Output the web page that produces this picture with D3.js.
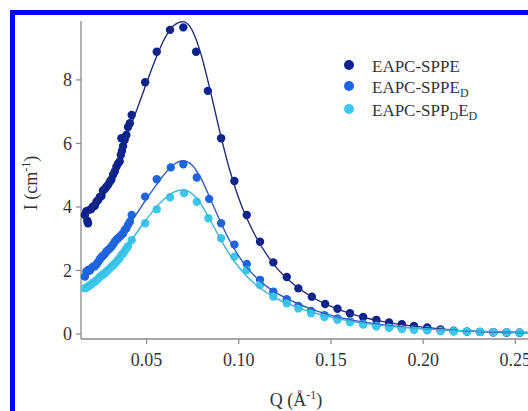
<!DOCTYPE html>
<html>
<head>
<meta charset="utf-8">
<script src="https://cdn.jsdelivr.net/npm/d3@7"></script>
<style>
    body { margin: 0; background: #fff; }
    svg { display: block; font-family: "Liberation Serif", "DejaVu Serif", serif; }
</style>
</head>
<body>
<svg width="528" height="411"></svg>
<script>
var names = ["EAPC-SPPE", "EAPC-SPPE_D", "EAPC-SPP_DE_D"];

var xTicks = [0.05, 0.10, 0.15, 0.20, 0.25];
var yTicks = [0, 2, 4, 6, 8];

// measured points [Q, I]
var dataE = [
    [0.0168, 3.73], [0.0176, 3.85], [0.0181, 3.55], [0.0185, 3.47], [0.0195, 3.90], [0.0203, 3.92],
    [0.0212, 4.00], [0.0222, 4.02], [0.0231, 4.15], [0.0240, 4.20], [0.0249, 4.30], [0.0258, 4.33],
    [0.0266, 4.50], [0.0276, 4.55], [0.0285, 4.62], [0.0294, 4.68], [0.0303, 4.78], [0.0312, 4.85],
    [0.0321, 5.00], [0.0330, 5.10], [0.0339, 5.25], [0.0348, 5.35], [0.0357, 5.42], [0.0363, 5.62],
    [0.0369, 5.75], [0.0375, 5.90], [0.0366, 6.15], [0.0384, 6.10], [0.0393, 6.25], [0.0402, 6.50],
    [0.0412, 6.62], [0.0422, 6.88], [0.0495, 7.91], [0.0558, 8.87], [0.0630, 9.56], [0.0702, 9.64],
    [0.0771, 8.87], [0.0835, 7.64], [0.0907, 6.15], [0.0979, 4.80], [0.1046, 3.73], [0.1118, 2.89],
    [0.1190, 2.24], [0.1263, 1.78], [0.1326, 1.42], [0.1399, 1.16], [0.1471, 0.93], [0.1538, 0.78],
    [0.1606, 0.64], [0.1677, 0.52], [0.1749, 0.43], [0.1818, 0.35], [0.1887, 0.29], [0.1953, 0.24],
    [0.2025, 0.19], [0.2097, 0.13], [0.2168, 0.09], [0.2240, 0.06], [0.2311, 0.05], [0.2383, 0.04],
    [0.2455, 0.03], [0.2526, 0.02], [0.2597, 0.02]
];

var dataED = [
    [0.0168, 1.79], [0.0176, 1.95], [0.0185, 2.00], [0.0195, 1.98], [0.0203, 2.05], [0.0212, 2.10],
    [0.0222, 2.12], [0.0231, 2.18], [0.0240, 2.25], [0.0249, 2.34], [0.0258, 2.40], [0.0266, 2.45],
    [0.0276, 2.50], [0.0285, 2.58], [0.0294, 2.63], [0.0303, 2.68], [0.0312, 2.73], [0.0321, 2.80],
    [0.0330, 2.89], [0.0339, 2.95], [0.0348, 3.00], [0.0357, 3.05], [0.0366, 3.10], [0.0375, 3.15],
    [0.0384, 3.26], [0.0393, 3.31], [0.0402, 3.42], [0.0412, 3.52], [0.0422, 3.73], [0.0495, 4.31],
    [0.0558, 4.86], [0.0634, 5.23], [0.0702, 5.33], [0.0775, 4.91], [0.0842, 4.24], [0.0907, 3.47],
    [0.0979, 2.80], [0.1046, 2.19], [0.1118, 1.69], [0.1190, 1.32], [0.1263, 1.08], [0.1326, 0.87],
    [0.1395, 0.71], [0.1467, 0.58], [0.1538, 0.47], [0.1606, 0.38], [0.1677, 0.31], [0.1749, 0.25],
    [0.1818, 0.20], [0.1887, 0.16], [0.1953, 0.13], [0.2025, 0.11], [0.2097, 0.09], [0.2168, 0.07],
    [0.2240, 0.06], [0.2311, 0.05], [0.2383, 0.04], [0.2455, 0.03], [0.2526, 0.03], [0.2597, 0.03]
];

var dataPDED = [
    [0.0168, 1.42], [0.0176, 1.45], [0.0185, 1.47], [0.0195, 1.52], [0.0203, 1.55], [0.0212, 1.60],
    [0.0222, 1.63], [0.0231, 1.68], [0.0240, 1.72], [0.0249, 1.79], [0.0258, 1.82], [0.0266, 1.86],
    [0.0276, 1.90], [0.0285, 1.95], [0.0294, 2.00], [0.0303, 2.05], [0.0312, 2.10], [0.0321, 2.15],
    [0.0330, 2.20], [0.0339, 2.26], [0.0348, 2.32], [0.0357, 2.38], [0.0366, 2.47], [0.0375, 2.52],
    [0.0384, 2.60], [0.0393, 2.68], [0.0402, 2.75], [0.0422, 2.94], [0.0495, 3.47], [0.0558, 3.91],
    [0.0630, 4.29], [0.0706, 4.42], [0.0775, 4.15], [0.0838, 3.63], [0.0907, 3.00], [0.0979, 2.42],
    [0.1046, 2.00], [0.1118, 1.53], [0.1190, 1.16], [0.1263, 0.95], [0.1326, 0.79], [0.1395, 0.64],
    [0.1467, 0.52], [0.1538, 0.43], [0.1606, 0.35], [0.1677, 0.28], [0.1749, 0.22], [0.1818, 0.18],
    [0.1887, 0.14], [0.1953, 0.12], [0.2025, 0.10], [0.2097, 0.08], [0.2168, 0.07], [0.2240, 0.06],
    [0.2311, 0.05], [0.2383, 0.04], [0.2455, 0.04], [0.2526, 0.03], [0.2597, 0.03]
];

// fitted curves [Q, I]
var fitE = [
    [0.0165, 3.62], [0.020, 3.90], [0.025, 4.38], [0.030, 4.92], [0.035, 5.55], [0.040, 6.28],
    [0.045, 7.05], [0.050, 7.85], [0.055, 8.62], [0.060, 9.28], [0.065, 9.70], [0.070, 9.82],
    [0.075, 9.55], [0.080, 8.75], [0.085, 7.60], [0.090, 6.35], [0.095, 5.22], [0.100, 4.30],
    [0.105, 3.58], [0.110, 3.00], [0.115, 2.52], [0.120, 2.12], [0.130, 1.55], [0.140, 1.15],
    [0.150, 0.86], [0.160, 0.64], [0.170, 0.48], [0.180, 0.36], [0.190, 0.27], [0.200, 0.20],
    [0.210, 0.14], [0.220, 0.09], [0.230, 0.06], [0.240, 0.04], [0.250, 0.03], [0.265, 0.02]
];

var fitED = [
    [0.0165, 1.72], [0.020, 1.92], [0.025, 2.22], [0.030, 2.55], [0.035, 2.94], [0.040, 3.35],
    [0.045, 3.78], [0.050, 4.22], [0.055, 4.63], [0.060, 5.02], [0.065, 5.32], [0.070, 5.44],
    [0.075, 5.30], [0.080, 4.86], [0.085, 4.22], [0.090, 3.56], [0.095, 2.96], [0.100, 2.46],
    [0.105, 2.06], [0.110, 1.75], [0.115, 1.50], [0.120, 1.30], [0.130, 1.00], [0.140, 0.76],
    [0.150, 0.58], [0.160, 0.44], [0.170, 0.34], [0.180, 0.26], [0.190, 0.20], [0.200, 0.15],
    [0.210, 0.12], [0.220, 0.09], [0.230, 0.07], [0.240, 0.05], [0.250, 0.04], [0.265, 0.03]
];

var fitPDED = [
    [0.0165, 1.45], [0.020, 1.60], [0.025, 1.84], [0.030, 2.10], [0.035, 2.40], [0.040, 2.78],
    [0.045, 3.18], [0.050, 3.58], [0.055, 3.94], [0.060, 4.24], [0.065, 4.45], [0.070, 4.52],
    [0.075, 4.40], [0.080, 4.05], [0.085, 3.55], [0.090, 3.01], [0.095, 2.52], [0.100, 2.11],
    [0.105, 1.78], [0.110, 1.51], [0.115, 1.30], [0.120, 1.12], [0.130, 0.87], [0.140, 0.67],
    [0.150, 0.52], [0.160, 0.40], [0.170, 0.31], [0.180, 0.24], [0.190, 0.19], [0.200, 0.15],
    [0.210, 0.12], [0.220, 0.09], [0.230, 0.07], [0.240, 0.05], [0.250, 0.04], [0.265, 0.03]
];

var dotColors = ["#0b2190", "#1c66e2", "#3cc8ee"];
var lineColors = ["#222c78", "#2f5cc4", "#3cb4d8"];

var series = [
    { name: names[0], points: dataE, fit: fitE },
    { name: names[1], points: dataED, fit: fitED },
    { name: names[2], points: dataPDED, fit: fitPDED }
];

var svg = d3.select("svg"),
    width = +svg.attr("width"),
    height = +svg.attr("height");

// blue frame
svg.append("rect")
    .attr("x", 12.5).attr("y", 12.5)
    .attr("width", 600).attr("height", 500)
    .attr("fill", "none")
    .attr("stroke", "#0000ff")
    .attr("stroke-width", 5);

var x = d3.scaleLinear().domain([0.0147, 0.265]).range([81, 542.5]);
var y = d3.scaleLinear().domain([0, 9.84]).range([333.5, 21]);
var xAxisY = 339;

var xAxis = svg.append("g")
    .attr("transform", "translate(0," + xAxisY + ")")
    .call(d3.axisBottom(x).tickValues(xTicks).tickSize(5).tickSizeOuter(0)
        .tickFormat(d3.format(".2f")));

var yAxis = svg.append("g")
    .attr("transform", "translate(81,0)")
    .call(d3.axisLeft(y).tickValues(yTicks).tickSize(5).tickSizeOuter(0)
        .tickFormat(d3.format("d")));

xAxis.select(".domain").remove();
yAxis.select(".domain").remove();

svg.append("line")
    .attr("x1", 81).attr("x2", 81)
    .attr("y1", 21).attr("y2", xAxisY)
    .attr("stroke", "#8a8a8a").attr("stroke-width", 1.3);
svg.append("line")
    .attr("x1", 81).attr("x2", width + 20)
    .attr("y1", xAxisY).attr("y2", xAxisY)
    .attr("stroke", "#8a8a8a").attr("stroke-width", 1.3);

svg.selectAll(".tick line").attr("stroke", "#8a8a8a").attr("stroke-width", 1.2);
svg.selectAll(".tick text")
    .attr("fill", "#333")
    .style("font-family", "'Liberation Serif', serif")
    .style("font-size", "18px");
xAxis.selectAll(".tick text").attr("dy", "1.05em");
yAxis.selectAll(".tick text").attr("x", -9).attr("dy", "0.34em");

var line = d3.line()
    .curve(d3.curveMonotoneX)
    .x(function (d) { return x(d[0]); })
    .y(function (d) { return y(d[1]); });

var plot = svg.append("g");

series.forEach(function (s, i) {
    plot.append("g").selectAll("circle")
        .data(s.points)
        .enter().append("circle")
        .attr("cx", function (d) { return x(d[0]); })
        .attr("cy", function (d) { return y(d[1]); })
        .attr("r", 4.2)
        .attr("fill", dotColors[i]);
});

series.forEach(function (s, i) {
    plot.append("path")
        .datum(s.fit)
        .attr("d", line)
        .attr("fill", "none")
        .attr("stroke", lineColors[i])
        .attr("stroke-width", 1.4);
});

// legend
var legend = svg.append("g").attr("transform", "translate(349,0)");
var legendY = [65, 86, 109];

series.forEach(function (s, i) {
    legend.append("circle")
        .attr("cx", 0).attr("cy", legendY[i])
        .attr("r", 5)
        .attr("fill", dotColors[i]);
    var t = legend.append("text")
        .attr("x", 23).attr("y", legendY[i] + 6.5)
        .attr("fill", "#333")
        .style("font-size", "17px");
    // split on "_X" for subscripts
    var parts = s.name.split("_");
    parts.forEach(function (p, j) {
        if (j === 0) {
            t.append("tspan").text(p);
        } else {
            t.append("tspan").attr("dy", 4).style("font-size", "12px").text(p[0]);
            if (p.length > 1) t.append("tspan").attr("dy", -4).text(p.slice(1));
        }
    });
});

// axis titles
var yTitle = svg.append("text")
    .attr("transform", "translate(37,183) rotate(-90)")
    .attr("text-anchor", "middle")
    .attr("fill", "#333")
    .style("font-size", "18px");
yTitle.append("tspan").text("I (cm");
yTitle.append("tspan").attr("dy", -7).style("font-size", "12px").text("-1");
yTitle.append("tspan").attr("dy", 7).text(")");

var xTitle = svg.append("text")
    .attr("x", 296).attr("y", 406)
    .attr("text-anchor", "middle")
    .attr("fill", "#333")
    .style("font-size", "18px");
xTitle.append("tspan").text("Q (Å");
xTitle.append("tspan").attr("dy", -7).style("font-size", "12px").text("-1");
xTitle.append("tspan").attr("dy", 7).text(")");
</script>
</body>
</html>
